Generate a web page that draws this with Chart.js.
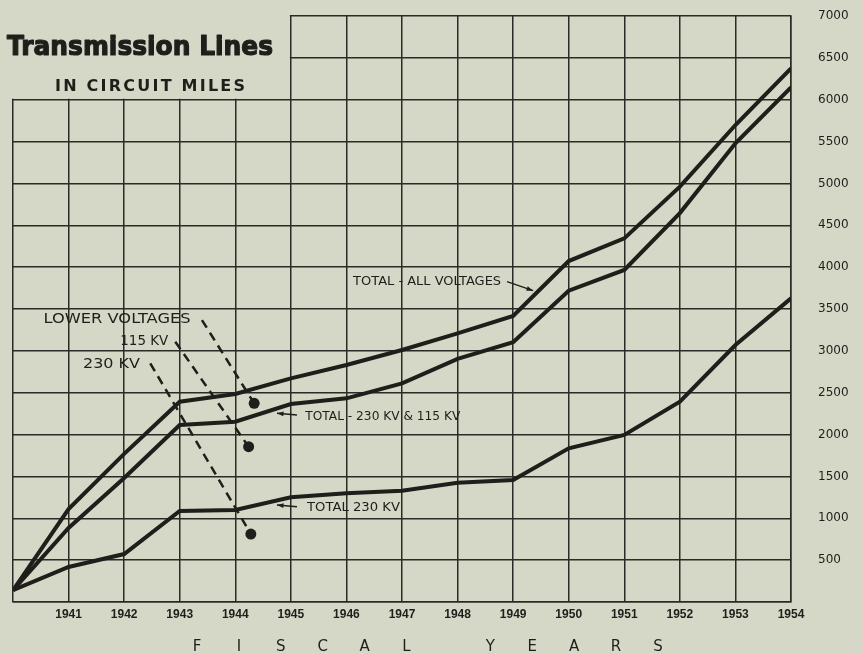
<!DOCTYPE html>
<html>
<head>
<meta charset="utf-8">
<script src="https://cdn.jsdelivr.net/npm/chart.js@4.4.1/dist/chart.umd.min.js"></script>
<style>
  html, body { margin: 0; padding: 0; background: #d5d8c6; }
</style>
</head>
<body>
<canvas id="line-chart" width="863" height="654"></canvas>
<script>
// fiscal years and circuit miles
const years = [1940, 1941, 1942, 1943, 1944, 1945, 1946, 1947, 1948, 1949, 1950, 1951, 1952, 1953, 1954];
const totalAll = [140, 1110, 1770, 2393, 2485, 2672, 2831, 3010, 3209, 3416, 4073, 4344, 4961, 5698, 6375];
const total230and115 = [140, 885, 1481, 2114, 2154, 2365, 2433, 2612, 2905, 3103, 3718, 3966, 4646, 5479, 6148];
const total230 = [140, 418, 573, 1087, 1099, 1250, 1298, 1330, 1425, 1457, 1836, 1995, 2393, 3070, 3628];
const yTicks = [500, 1000, 1500, 2000, 2500, 3000, 3500, 4000, 4500, 5000, 5500, 6000, 6500, 7000];
const xTicks = [1941, 1942, 1943, 1944, 1945, 1946, 1947, 1948, 1949, 1950, 1951, 1952, 1953, 1954];

const bg = "#d5d8c6";
const ink = "#1f1e1b";

// labels placed in data units (year, miles)
const notes = [
  { text: "TOTAL - ALL VOLTAGES", x: 1946.12, y: 3826, w: 148, font: "12px 'DejaVu Sans'" },
  { text: "TOTAL - 230 KV & 115 KV", x: 1945.26, y: 2206, w: 155, font: "12px 'DejaVu Sans'" },
  { text: "TOTAL 230 KV", x: 1945.29, y: 1119, w: 93, font: "12px 'DejaVu Sans'" },
  { text: "LOWER VOLTAGES", x: 1940.55, y: 3380, w: 147, font: "14px 'DejaVu Sans'" },
  { text: "115 KV", x: 1941.93, y: 3109, w: 48, font: "14px 'DejaVu Sans'" },
  { text: "230 KV", x: 1941.26, y: 2839, w: 57, font: "14px 'DejaVu Sans'" },
];
const arrows = [
  { from: [1948.89, 3826], to: [1949.36, 3719] },
  { from: [1945.11, 2234], to: [1944.75, 2254] },
  { from: [1945.11, 1138], to: [1944.75, 1159] },
];
const leaders = [
  { from: [1943.40, 3368], to: [1944.34, 2373] },
  { from: [1942.92, 3109], to: [1944.24, 1855] },
  { from: [1942.47, 2851], to: [1944.28, 812] },
];

function points(arr) {
  return years.map((x, i) => ({ x: x, y: arr[i] }));
}

function fitText(ctx, text, x, y, w, font) {
  ctx.font = font;
  const m = ctx.measureText(text).width;
  ctx.save();
  ctx.translate(x, y);
  ctx.scale(w / m, 1);
  ctx.fillText(text, 0, 0);
  ctx.restore();
}

function spacedText(ctx, text, x, y, w, font) {
  ctx.font = font;
  const chars = text.split("");
  const sum = chars.reduce((s, c) => s + ctx.measureText(c).width, 0);
  const gap = (w - sum) / (chars.length - 1);
  let cx = x;
  chars.forEach((c) => {
    ctx.fillText(c, cx, y);
    cx += ctx.measureText(c).width + gap;
  });
}

const paper = {
  id: "paper",
  beforeDraw(chart) {
    const ctx = chart.ctx;
    ctx.save();
    ctx.fillStyle = bg;
    ctx.fillRect(0, 0, chart.width, chart.height);
    ctx.restore();
  },
  beforeDatasetsDraw(chart) {
    // the grid has no cells above 6000 left of 1945 (title sits there)
    const ctx = chart.ctx;
    const xs = chart.scales.x, ys = chart.scales.y;
    ctx.save();
    ctx.fillStyle = bg;
    ctx.fillRect(0, 0, xs.getPixelForValue(1945) - 1, ys.getPixelForValue(6000) - 1);
    ctx.restore();
  },
  afterDraw(chart) {
    const ctx = chart.ctx;
    const xs = chart.scales.x, ys = chart.scales.y;
    const px = (p) => [xs.getPixelForValue(p[0]), ys.getPixelForValue(p[1])];
    ctx.save();
    ctx.fillStyle = ink;
    ctx.strokeStyle = ink;
    ctx.textBaseline = "alphabetic";

    // heavy title: fill plus a thin stroke to thicken the strokes
    ctx.font = "bold 27px 'DejaVu Sans'";
    const tw = ctx.measureText("Transmission Lines").width;
    ctx.save();
    ctx.translate(7, 55);
    ctx.scale(266 / tw, 1);
    ctx.lineWidth = 1.2;
    ctx.lineJoin = "round";
    ctx.fillText("Transmission Lines", 0, 0);
    ctx.strokeText("Transmission Lines", 0, 0);
    ctx.restore();
    spacedText(ctx, "IN CIRCUIT MILES", 55, 91, 190, "bold 16px 'DejaVu Sans'");

    // axis title, letter spaced
    ctx.font = "15px 'DejaVu Sans'";
    ctx.textAlign = "center";
    "FISCAL YEARS".split("").forEach((c, i) => {
      ctx.fillText(c, 197 + i * 41.9, 651);
    });
    ctx.textAlign = "left";

    ctx.textBaseline = "middle";
    notes.forEach((n) => {
      fitText(ctx, n.text, xs.getPixelForValue(n.x), ys.getPixelForValue(n.y), n.w, n.font);
    });

    ctx.lineWidth = 1.4;
    arrows.forEach((a) => {
      const [x1, y1] = px(a.from), [x2, y2] = px(a.to);
      ctx.beginPath();
      ctx.moveTo(x1, y1);
      ctx.lineTo(x2, y2);
      ctx.stroke();
      const ang = Math.atan2(y2 - y1, x2 - x1);
      ctx.beginPath();
      ctx.moveTo(x2, y2);
      ctx.lineTo(x2 - 7 * Math.cos(ang - 0.35), y2 - 7 * Math.sin(ang - 0.35));
      ctx.lineTo(x2 - 7 * Math.cos(ang + 0.35), y2 - 7 * Math.sin(ang + 0.35));
      ctx.closePath();
      ctx.fill();
    });

    leaders.forEach((l) => {
      const [x1, y1] = px(l.from), [x2, y2] = px(l.to);
      ctx.lineWidth = 2.5;
      ctx.setLineDash([9, 6]);
      ctx.beginPath();
      ctx.moveTo(x1, y1);
      ctx.lineTo(x2, y2);
      ctx.stroke();
      ctx.setLineDash([]);
      ctx.beginPath();
      ctx.arc(x2, y2, 5.5, 0, Math.PI * 2);
      ctx.fill();
    });
    ctx.restore();
  },
};

new Chart(document.getElementById("line-chart"), {
  type: "line",
  data: {
    datasets: [
      { label: "Total - all voltages", data: points(totalAll) },
      { label: "Total - 230 KV & 115 KV", data: points(total230and115) },
      { label: "Total 230 KV", data: points(total230) },
    ],
  },
  options: {
    responsive: false,
    animation: false,
    devicePixelRatio: 1,
    layout: { padding: { left: 13, top: 16, right: 0, bottom: 0 } },
    elements: {
      line: { borderColor: ink, borderWidth: 4, tension: 0, fill: false },
      point: { radius: 0 },
    },
    plugins: {
      legend: { display: false },
      tooltip: { enabled: false },
    },
    scales: {
      x: {
        type: "linear",
        min: 1940,
        max: 1954,
        afterFit: (s) => { s.height = 52; s.paddingLeft = 0; s.paddingRight = 0; },
        afterBuildTicks: (s) => { s.ticks = [1940].concat(xTicks).map((v) => ({ value: v })); },
        ticks: {
          callback: (v) => (xTicks.includes(v) ? String(v) : ""),
          color: ink,
          font: { family: "Liberation Sans", size: 12, weight: "bold" },
          padding: 5,
          maxRotation: 0,
          autoSkip: false,
        },
        grid: { color: "#2b2a26", lineWidth: 1.5, drawTicks: false },
        border: { color: "#2b2a26", width: 1.5 },
      },
      y: {
        position: "right",
        min: 0,
        max: 7000,
        afterFit: (s) => { s.width = 72; s.paddingTop = 0; s.paddingBottom = 0; },
        afterBuildTicks: (s) => { s.ticks = [0].concat(yTicks).map((v) => ({ value: v })); },
        ticks: {
          callback: (v) => (yTicks.includes(v) ? String(v) : ""),
          color: ink,
          font: { family: "DejaVu Sans", size: 12 },
          padding: 27,
          autoSkip: false,
        },
        grid: { color: "#2b2a26", lineWidth: 1.5, drawTicks: false },
        border: { color: "#2b2a26", width: 1.5 },
      },
    },
  },
  plugins: [paper],
});
</script>
</body>
</html>
